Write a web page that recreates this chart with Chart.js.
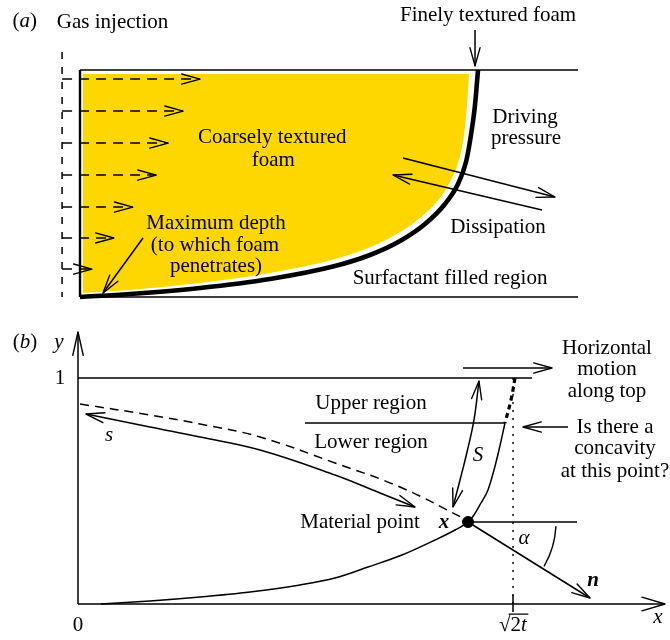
<!DOCTYPE html>
<html lang="en">
<head>
<meta charset="utf-8">
<title>Foam front: gas injection and front geometry</title>
<script src="https://cdn.jsdelivr.net/npm/chart.js@4.4.1/dist/chart.umd.min.js"></script>
<style>
  html, body { margin: 0; padding: 0; background: #fff; }
  #sheet { position: relative; width: 670px; height: 640px; }
  #sheet canvas { position: absolute; left: 0; }
  #panelA { top: 0; }
  #panelB { top: 320px; }
</style>
</head>
<body>
<div id="sheet">
  <canvas id="panelA" width="670" height="320"></canvas>
  <canvas id="panelB" width="670" height="320"></canvas>
</div>
<script>
/* ---------- Panel (a) ----------
   x runs across the channel (0 = injection wall, 1 = far end),
   depth runs downward (0 = top boundary, 1 = bottom boundary). */
const frontX     = [0, 0.1004, 0.2410, 0.3815, 0.5120, 0.5823, 0.6426, 0.6928, 0.7329, 0.7590, 0.7751, 0.7851, 0.7932, 0.7992];
const frontDepth = [1, 0.9868, 0.9604, 0.9207, 0.8634, 0.8150, 0.7533, 0.6784, 0.5903, 0.5022, 0.4053, 0.2863, 0.1542, 0];

const foamEdgeX     = [0.0060, 0.1004, 0.2410, 0.3815, 0.5120, 0.5783, 0.6365, 0.6827, 0.7209, 0.7450, 0.7610, 0.7711, 0.7771, 0.7811];
const foamEdgeDepth = [0.9824, 0.9692, 0.9383, 0.8943, 0.8326, 0.7841, 0.7225, 0.6520, 0.5683, 0.4846, 0.3965, 0.2863, 0.1542, 0.0176];
const foamTopDepth = 0.0176;

const injectionDepth = [0.040, 0.181, 0.322, 0.463, 0.604, 0.740, 0.877];
const injectionReach = [0.241, 0.207, 0.177, 0.153, 0.106, 0.068, 0.024];
const injectionLineX = -0.036;
const injectionLineTop = -0.079;

/* ---------- Panel (b) ----------
   y = 1 is the top of the domain; x = 1 is the position sqrt(2t). */
const interfaceX = [0.0529, 0.1655, 0.2805, 0.3954, 0.5103, 0.5908, 0.6667, 0.7448, 0.8207, 0.8667, 0.8966, 0.9103, 0.9264, 0.9425, 0.9563, 0.9678, 0.9816];
const interfaceY = [0.0000, 0.0133, 0.0310, 0.0531, 0.0841, 0.1150, 0.1637, 0.2168, 0.2832, 0.3274, 0.3628, 0.3938, 0.4469, 0.5044, 0.5929, 0.6814, 0.8009];

const pathlineX = [0.0046, 0.1655, 0.2805, 0.4184, 0.5908, 0.7402, 0.8897];
const pathlineY = [0.8850, 0.8363, 0.7965, 0.7389, 0.6239, 0.5177, 0.3761];

const arcLengthX = [0.0184, 0.1655, 0.2805, 0.4184, 0.5908, 0.6943, 0.7747];
const arcLengthY = [0.8407, 0.7832, 0.7389, 0.6814, 0.5708, 0.4912, 0.4292];

const upperSpanX = [0.9218, 0.9103, 0.8943, 0.8782, 0.8621];
const upperSpanY = [0.9867, 0.8142, 0.6726, 0.5487, 0.4292];

const upperFrontX = [1.0046, 0.9954, 0.9816];
const upperFrontY = [1.0000, 0.9027, 0.8009];

const regionSplitX = [0.5218, 0.9816];
const regionSplitY = 0.8009;

const materialPoint = { x: 0.8966, y: 0.3628 };
const normalTip = { x: 1.177, y: 0.0265 };
const tangentRefEndX = 1.1471;

const xTickValues = [0, 1];
const xTickLabels = ['0', '√2t'];
const yTickValues = [1];
const yTickLabels = ['1'];
const xAxisEnd = 1.3494;
const yAxisEnd = 1.2035;
const topLineEnd = 1.0437;

/* ---------- drawing helpers ---------- */
const SERIF = '"Liberation Serif", "Times New Roman", serif';
const FONT_PX = 21;
function fontFor(style) {
  const it = style.includes('i') ? 'italic ' : '';
  const bd = style.includes('b') ? 'bold ' : '';
  return it + bd + FONT_PX + 'px ' + SERIF;
}

function path(xs, ys, extra) {
  const yv = Array.isArray(ys) ? ys : xs.map(() => ys);
  return Object.assign({
    data: xs.map((x, i) => ({ x: x, y: yv[i] })),
    borderColor: '#000',
    borderWidth: 1.5,
    pointRadius: 0,
    tension: 0,
    fill: false,
    order: 1
  }, extra || {});
}

function L(x, y, text, style) {
  return { x: x, y: y, parts: [[text, style || 'r']] };
}

// tick label text: letters italic, digits and symbols upright; a leading radical gets an overline
function tickParts(str) {
  const parts = [];
  for (const ch of str) parts.push([ch, /[a-z]/i.test(ch) ? 'i' : 'r']);
  return { parts: parts, overline: str.startsWith('√') };
}

function arrowHead(ctx, tip, from, len, ang) {
  const a = Math.atan2(tip.y - from.y, tip.x - from.x);
  ctx.beginPath();
  ctx.moveTo(tip.x - len * Math.cos(a - ang), tip.y - len * Math.sin(a - ang));
  ctx.lineTo(tip.x, tip.y);
  ctx.lineTo(tip.x - len * Math.cos(a + ang), tip.y - len * Math.sin(a + ang));
  ctx.stroke();
}

function drawRich(ctx, lab, x, y) {
  const widths = lab.parts.map(p => { ctx.font = fontFor(p[1]); return ctx.measureText(p[0]).width; });
  const total = widths.reduce((s, w) => s + w, 0);
  let cx = x - total / 2;
  const starts = [];
  lab.parts.forEach((p, i) => {
    ctx.font = fontFor(p[1]);
    starts.push(cx);
    ctx.fillText(p[0], cx, y);
    cx += widths[i];
  });
  if (lab.overline) {
    ctx.font = fontFor(lab.parts[0][1]);
    const top = ctx.measureText(lab.parts[0][0]).actualBoundingBoxAscent;
    ctx.lineWidth = 1.2;
    ctx.beginPath();
    ctx.moveTo(starts[1] - 1.5, y - top + 0.6);
    ctx.lineTo(cx + 1, y - top + 0.6);
    ctx.stroke();
  }
}

function marks(labels, arcs) {
  return {
    id: 'marks',
    afterDatasetsDraw(chart) {
      const ctx = chart.ctx, sx = chart.scales.x, sy = chart.scales.y;
      ctx.save();
      ctx.strokeStyle = '#000';
      ctx.fillStyle = '#000';
      ctx.setLineDash([]);
      ctx.lineCap = 'round';
      ctx.lineJoin = 'round';
      ctx.lineWidth = 1.4;
      chart.data.datasets.forEach((ds, i) => {
        if (!ds.heads) return;
        const pts = chart.getDatasetMeta(i).data;
        const n = pts.length;
        const len = ds.headLen || 19, ang = ds.headAng || 0.27;
        if (ds.heads.includes('end')) arrowHead(ctx, pts[n - 1], pts[n - 2], len, ang);
        if (ds.heads.includes('start')) arrowHead(ctx, pts[0], pts[1], len, ang);
      });
      (arcs || []).forEach(a => {
        ctx.beginPath();
        ctx.arc(sx.getPixelForValue(a.x), sy.getPixelForValue(a.y), a.r, a.from * Math.PI / 180, a.to * Math.PI / 180);
        ctx.stroke();
      });
      ctx.textBaseline = 'middle';
      ctx.textAlign = 'left';
      labels.forEach(l => drawRich(ctx, l, sx.getPixelForValue(l.x), sy.getPixelForValue(l.y)));
      ctx.restore();
    }
  };
}

function frame(xMin, xMax, yMin, yMax, reverseY) {
  return {
    responsive: false,
    animation: false,
    events: [],
    layout: { padding: 0, autoPadding: false },
    plugins: { legend: { display: false }, tooltip: { enabled: false } },
    scales: {
      x: { type: 'linear', min: xMin, max: xMax, display: false, bounds: 'data' },
      y: { type: 'linear', min: yMin, max: yMax, display: false, bounds: 'data', reverse: !!reverseY }
    }
  };
}

/* ---------- Panel (a): foam penetrating the channel ---------- */
const datasetsA = [
  path([0, 1], [0, 0]),
  path([0, 1], [1, 1]),
  path([0, 0], [0, 1], { borderWidth: 2.4 }),
  path(frontX, frontDepth, { borderWidth: 4.6, cubicInterpolationMode: 'monotone', order: 0 }),
  path([injectionLineX, injectionLineX], [injectionLineTop, 1], { borderDash: [7, 8] }),
  ...injectionDepth.map((d, i) => path([injectionLineX, injectionReach[i]], [d, d], { borderDash: [10, 7], heads: ['end'] })),
  path([0.7932, 0.7932], [-0.176, -0.018], { heads: ['end'] }),
  path([0.6486, 0.9538], [0.3877, 0.5595], { heads: ['end'] }),
  path([0.9277, 0.6285], [0.6167, 0.4626], { heads: ['end'] }),
  path([0.1265, 0.0462], [0.7401, 0.9824], { heads: ['end'] }),
  path(foamEdgeX, foamEdgeDepth, {
    borderWidth: 0, borderColor: 'rgba(0,0,0,0)', backgroundColor: '#FFD700',
    fill: { value: foamTopDepth }, cubicInterpolationMode: 'monotone', order: 9
  })
];

const labelsA = [
  { x: -0.111, y: -0.212, parts: [['(', 'r'], ['a', 'i'], [')', 'r']] },
  L(0.0653, -0.210, 'Gas injection'),
  L(0.8193, -0.240, 'Finely textured foam'),
  L(0.3860, 0.2952, 'Coarsely textured'),
  L(0.3880, 0.3965, 'foam'),
  L(0.8936, 0.2070, 'Driving'),
  L(0.8956, 0.2996, 'pressure'),
  L(0.8394, 0.6916, 'Dissipation'),
  L(0.7430, 0.9163, 'Surfactant filled region'),
  L(0.2731, 0.6740, 'Maximum depth'),
  L(0.2711, 0.7709, '(to which foam'),
  L(0.2731, 0.8634, 'penetrates)')
];

new Chart(document.getElementById('panelA'), {
  type: 'line',
  data: { datasets: datasetsA },
  options: frame(-80 / 498, 590 / 498, -70 / 227, 250 / 227, true),
  plugins: [marks(labelsA, [])]
});

/* ---------- Panel (b): geometry of the front ---------- */
const datasetsB = [
  path([0, xAxisEnd], [0, 0], { heads: ['end'], headLen: 24, headAng: 0.29 }),
  path([0, 0], [0, yAxisEnd], { heads: ['end'], headLen: 24, headAng: 0.22 }),
  path([0, topLineEnd], [yTickValues[0], yTickValues[0]]),
  path([xTickValues[1], xTickValues[1]], [0, yTickValues[0]], { borderDash: [2, 6], borderWidth: 1.4 }),
  ...xTickValues.filter(v => v !== 0).map(v => path([v, v], [0.0398, -0.0354])),
  path(interfaceX, interfaceY, { cubicInterpolationMode: 'monotone' }),
  path(pathlineX, pathlineY, { tension: 0.4, borderDash: [9, 6] }),
  path(arcLengthX, arcLengthY, { tension: 0.4, heads: ['start', 'end'] }),
  path(upperSpanX, upperSpanY, { tension: 0.4, heads: ['start', 'end'] }),
  path(upperFrontX, upperFrontY, { tension: 0.4, borderWidth: 3.2, borderDash: [5, 4] }),
  path(regionSplitX, regionSplitY),
  path([0.8851, 1.0897], [1.0442, 1.0442], { heads: ['end'] }),
  path([1.1264, 1.0230], [0.7832, 0.7832], { heads: ['end'] }),
  path([materialPoint.x, tangentRefEndX], [materialPoint.y, materialPoint.y]),
  path([materialPoint.x, normalTip.x], [materialPoint.y, normalTip.y], { heads: ['end'] }),
  {
    data: [materialPoint], showLine: false, pointRadius: 5.5,
    pointBackgroundColor: '#000', pointBorderColor: '#000', order: 0
  }
];

const labelsB = [
  { x: -0.1218, y: 1.1593, parts: [['(', 'r'], ['b', 'i'], [')', 'r']] },
  L(-0.0437, 1.159, 'y', 'i'),
  ...yTickValues.map((v, i) => Object.assign({ x: -0.0414, y: v - 0.004 }, tickParts(yTickLabels[i]))),
  ...xTickValues.map((v, i) => Object.assign({ x: v, y: -0.0929 }, tickParts(xTickLabels[i]))),
  L(1.3333, -0.0597, 'x', 'i'),
  L(0.0713, 0.7478, 's', 'i'),
  L(0.6736, 0.8894, 'Upper region'),
  L(0.6736, 0.7168, 'Lower region'),
  L(0.9195, 0.6593, 'S', 'i'),
  L(0.6483, 0.3600, 'Material point'),
  L(0.8414, 0.3584, 'x', 'bi'),
  L(1.0253, 0.2920, 'α', 'i'),
  L(1.1839, 0.1018, 'n', 'bi'),
  L(1.2161, 1.1327, 'Horizontal'),
  L(1.2161, 1.0398, 'motion'),
  L(1.2161, 0.9420, 'along top'),
  L(1.2345, 0.7832, 'Is there a'),
  L(1.2345, 0.6903, 'concavity'),
  L(1.2345, 0.5885, 'at this point?')
];

const angleArcs = [{ x: materialPoint.x, y: materialPoint.y, r: 88, from: 3, to: 30 }];

new Chart(document.getElementById('panelB'), {
  type: 'line',
  data: { datasets: datasetsB },
  options: frame(-78 / 435, 592 / 435, -36 / 226, 284 / 226, false),
  plugins: [marks(labelsB, angleArcs)]
});
</script>
</body>
</html>
